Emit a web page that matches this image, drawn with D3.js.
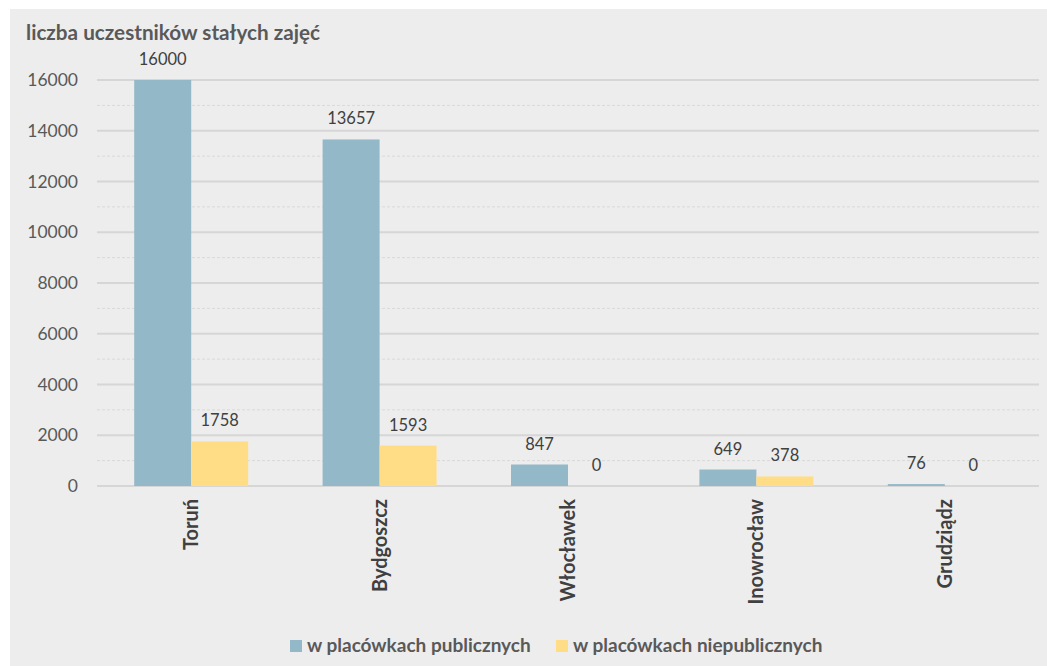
<!DOCTYPE html>
<html>
<head>
<meta charset="utf-8">
<script src="https://cdn.jsdelivr.net/npm/d3@7"></script>
<style>
  html, body { margin: 0; padding: 0; background: #ffffff; }
  svg { display: block; }
  text { font-family: Lato, "Open Sans", sans-serif; }
</style>
</head>
<body>
<svg id="chart" width="1047" height="666"></svg>
<script>
// Participants of regular classes, by city and type of institution
const cities = ["Toruń", "Bydgoszcz", "Włocławek", "Inowrocław", "Grudziądz"];
const publicValues = [16000, 13657, 847, 649, 76];
const nonPublicValues = [1758, 1593, 0, 378, 0];
const seriesNames = ["w placówkach publicznych", "w placówkach niepublicznych"];
const seriesColors = ["#93b8c8", "#ffdd87"];
const yTicks = [0, 2000, 4000, 6000, 8000, 10000, 12000, 14000, 16000];
const yMinorTicks = [1000, 3000, 5000, 7000, 9000, 11000, 13000, 15000];
const titleText = "liczba uczestników stałych zajęć";

const svg = d3.select("#chart");
const W = 1047, H = 666;

// panel background
svg.append("rect").attr("x", 10).attr("y", 9).attr("width", W - 10).attr("height", H - 9)
  .attr("fill", "#ededed");

const plot = { left: 97, right: 1039, top: 80, bottom: 486 };

const x = d3.scaleBand().domain(cities).range([plot.left, plot.right])
  .paddingInner(0.395).paddingOuter(0.1975);
const x1 = d3.scaleBand().domain([0, 1]).range([0, x.bandwidth()]);
const y = d3.scaleLinear().domain([0, 16000]).range([plot.bottom, plot.top]);

// minor dashed gridlines
svg.append("g").selectAll("line").data(yMinorTicks).join("line")
  .attr("x1", plot.left).attr("x2", plot.right)
  .attr("y1", d => y(d)).attr("y2", d => y(d))
  .attr("stroke", "#d9d9d9").attr("stroke-width", 1).attr("stroke-dasharray", "3,2");

// major gridlines
svg.append("g").selectAll("line").data(yTicks).join("line")
  .attr("x1", plot.left).attr("x2", plot.right)
  .attr("y1", d => y(d)).attr("y2", d => y(d))
  .attr("stroke", "#d6d6d6").attr("stroke-width", 2);

// y axis labels
const yAxis = d3.axisLeft(y).tickValues(yTicks).tickSize(0).tickPadding(0).tickFormat(d3.format("d"));
const yg = svg.append("g").attr("transform", `translate(78,0)`).call(yAxis);
yg.select(".domain").remove();
yg.selectAll("text").attr("font-size", 17.5).attr("fill", "#595959")
  .attr("font-family", "Lato, 'Open Sans', sans-serif");

// bars
const rows = cities.map((c, i) => ({ city: c, values: [publicValues[i], nonPublicValues[i]] }));
const groups = svg.append("g").selectAll("g").data(rows).join("g")
  .attr("transform", d => `translate(${x(d.city)},0)`);

groups.selectAll("rect").data(d => d.values.map((v, s) => ({ v, s }))).join("rect")
  .attr("x", d => x1(d.s)).attr("width", x1.bandwidth())
  .attr("y", d => y(d.v)).attr("height", d => y(0) - y(d.v))
  .attr("fill", d => seriesColors[d.s]);

groups.selectAll("text").data(d => d.values.map((v, s) => ({ v, s }))).join("text")
  .attr("x", d => x1(d.s) + x1.bandwidth() / 2)
  .attr("y", d => y(d.v) - 15)
  .attr("text-anchor", "middle")
  .attr("font-size", 16.5).attr("fill", "#404040")
  .text(d => d.v);

// category labels (rotated)
const xAxis = d3.axisBottom(x).tickSize(0).tickPadding(0);
const xg = svg.append("g").attr("transform", `translate(0,${plot.bottom})`).call(xAxis);
xg.select(".domain").remove();
xg.selectAll("text")
  .attr("transform", "rotate(-90)")
  .attr("x", -13).attr("y", 0).attr("dy", "0.35em")
  .attr("text-anchor", "end")
  .attr("font-size", 20).attr("font-weight", "bold").attr("fill", "#404040")
  .attr("font-family", "Lato, 'Open Sans', sans-serif");

// title
svg.append("text").attr("x", 26).attr("y", 40)
  .attr("font-size", 20.7).attr("font-weight", "bold").attr("fill", "#595959")
  .text(titleText);

// legend
const legendItems = [{ x: 290 }, { x: 556 }];
const lg = svg.append("g");
seriesNames.forEach((name, i) => {
  const lx = legendItems[i].x;
  lg.append("rect").attr("x", lx).attr("y", 640).attr("width", 12).attr("height", 12)
    .attr("fill", seriesColors[i]);
  lg.append("text").attr("x", lx + 17).attr("y", 652)
    .attr("font-size", 19).attr("font-weight", "bold").attr("fill", "#595959")
    .text(name);
});
</script>
</body>
</html>
